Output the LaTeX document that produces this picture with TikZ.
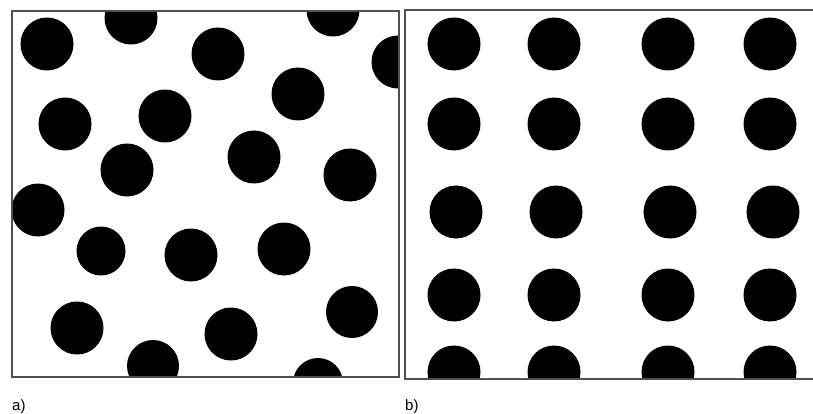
\documentclass[tikz,border=0pt]{standalone}
\usepackage{fontspec}
\setmainfont{Liberation Sans}
\definecolor{frame}{HTML}{505050}
\begin{document}
\begin{tikzpicture}[x=1pt,y=-1pt,
  dot/.style={fill=black},
  panelframe/.style={draw=frame,line width=1.6pt},
  lbl/.style={anchor=base west,inner sep=0pt,font=\fontsize{15}{17}\selectfont}]
\useasboundingbox[fill=white] (0,0) rectangle (813,414);
% panel a
\begin{scope}
\clip (12,11) rectangle (399,377);
\foreach \x/\y/\r in {47/44/26.5,131/18/26.5,218/54/26.5,333/10/26.5,398/62/26.5,65/124/26.5,165/116/26.5,298/94/26.5,127/170/26.5,254/157/26.5,350/175/26.5,38/210/26.5,101/251/24.5,191/255/26.5,284/249/26.5,77/328/26.5,153/366/26,231/334/26.5,352/312/26,318/383/25}
  \fill[dot] (\x,\y) circle (\r);
\end{scope}
\draw[panelframe] (12,11) rectangle (399,377);
% panel b
\begin{scope}
\clip (405,10) rectangle (813,379);
\foreach \y/\a/\b/\c/\d in {44/454/554/668/770,124/454/554/668/770,212/456/556/670/773,295/454/554/668/770,372/454/554/668/770}
  \foreach \x in {\a,\b,\c,\d}
    \fill[dot] (\x,\y) circle (26.5);
\end{scope}
\draw[panelframe] (814,10) -- (405,10) -- (405,379) -- (814,379);
\node[lbl] (la) at (12,410) {a)};
\node[lbl] (lb) at (405,410) {b)};
\end{tikzpicture}
\end{document}
